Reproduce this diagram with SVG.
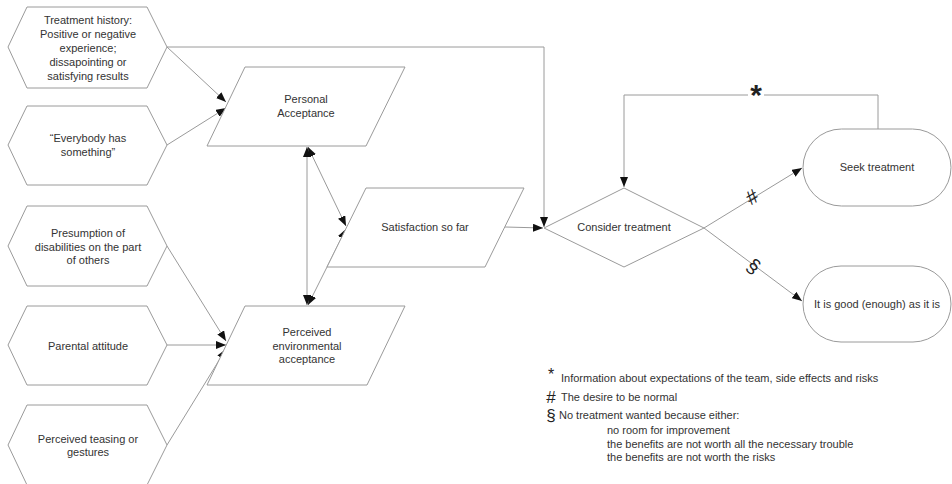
<svg xmlns="http://www.w3.org/2000/svg" width="952" height="484" viewBox="0 0 952 484">
<defs>
<marker id="ah" viewBox="0 0 10 8" refX="10" refY="4" markerWidth="10" markerHeight="8" markerUnits="userSpaceOnUse" orient="auto-start-reverse">
<path d="M0,0 L10,4 L0,8 z" fill="#111"/>
</marker>
<style>
.shape{fill:#fff;stroke:#9a9a9a;stroke-width:1}
.t{font-family:"Liberation Sans",Arial,sans-serif;font-size:11px;fill:#333;text-anchor:middle}
.lg{font-family:"Liberation Sans",Arial,sans-serif;font-size:11px;fill:#333}
.sym{font-family:"Liberation Sans",Arial,sans-serif;fill:#222}
.c{fill:none;stroke:#9a9a9a;stroke-width:1}
.a{marker-end:url(#ah)}
.b{marker-start:url(#ah);marker-end:url(#ah)}
</style>
</defs>
<rect width="952" height="484" fill="#fff"/>

<g id="connectors">
<line class="c a" x1="167" y1="47" x2="226" y2="102"/>
<line class="c a" x1="167" y1="145" x2="226" y2="108"/>
<polyline class="c a" points="167,47 544,47 544,227"/>
<line class="c a" x1="167" y1="246" x2="226" y2="341"/>
<line class="c a" x1="167" y1="345" x2="226" y2="345"/>
<line class="c a" x1="167" y1="445" x2="226" y2="349"/>
<line class="c b" x1="307" y1="147" x2="307" y2="305"/>
<line class="c b" x1="308" y1="147" x2="346" y2="226"/>
<line class="c b" x1="346" y1="229" x2="308" y2="305"/>
<line class="c a" x1="505" y1="227" x2="543" y2="228"/>
<line class="c a" x1="704" y1="228" x2="802" y2="168"/>
<line class="c a" x1="704" y1="228" x2="802" y2="301"/>
<polyline class="c" points="878,129 878,95 764,95"/>
<polyline class="c a" points="748,95 624,95 624,187"/>
<text class="sym" x="756" y="105" font-size="30" font-weight="bold" text-anchor="middle">*</text>
<text class="sym" x="752" y="204" font-size="20" text-anchor="middle" transform="rotate(-31 752 197)">#</text>
<text class="sym" x="753" y="273" font-size="20" text-anchor="middle" transform="rotate(38 753 267)">§</text>
</g>

<g id="hex1">
<polygon class="shape" points="8,47 27,7 147,7 167,47 147,88 27,88"/>
<text class="t" x="88" y="24">Treatment history:</text>
<text class="t" x="88" y="38">Positive or negative</text>
<text class="t" x="88" y="52">experience;</text>
<text class="t" x="88" y="66">dissapointing or</text>
<text class="t" x="88" y="79.5">satisfying results</text>
</g>
<g id="hex2">
<polygon class="shape" points="8,145 27,106 147,106 167,145 147,185 27,185"/>
<text class="t" x="88" y="142">“Everybody has</text>
<text class="t" x="88" y="156">something”</text>
</g>
<g id="hex3">
<polygon class="shape" points="8,246 27,206 147,206 167,246 147,286 27,286"/>
<text class="t" x="88" y="237">Presumption of</text>
<text class="t" x="88" y="250.5">disabilities on the part</text>
<text class="t" x="88" y="264">of others</text>
</g>
<g id="hex4">
<polygon class="shape" points="8,345 27,306 147,306 167,345 147,385 27,385"/>
<text class="t" x="88" y="349.5">Parental attitude</text>
</g>
<g id="hex5">
<polygon class="shape" points="8,445 27,405 147,405 167,445 147,485 27,485"/>
<text class="t" x="88" y="442.5">Perceived teasing or</text>
<text class="t" x="88" y="456">gestures</text>
</g>

<g id="personal-acceptance">
<polygon class="shape" points="245,67 405,67 366,146 207,146"/>
<text class="t" x="306" y="103">Personal</text>
<text class="t" x="306" y="117">Acceptance</text>
</g>
<g id="satisfaction">
<polygon class="shape" points="366,188 524,188 485,267 327,267"/>
<text class="t" x="425" y="231">Satisfaction so far</text>
</g>
<g id="perceived-env">
<polygon class="shape" points="245,306 405,306 367,385 207,385"/>
<text class="t" x="307" y="336">Perceived</text>
<text class="t" x="307" y="349.5">environmental</text>
<text class="t" x="307" y="363">acceptance</text>
</g>
<g id="consider">
<polygon class="shape" points="544,228 624,188 704,228 624,267"/>
<text class="t" x="624" y="231">Consider treatment</text>
</g>
<g id="seek">
<rect class="shape" x="803" y="129" width="148" height="77" rx="38.5" ry="38.5"/>
<text class="t" x="877" y="171">Seek treatment</text>
</g>
<g id="good">
<rect class="shape" x="803" y="266" width="148" height="76" rx="38" ry="38"/>
<text class="t" x="877" y="308">It is good (enough) as it is</text>
</g>

<g id="legend">
<text class="sym" x="551" y="380" font-size="16" text-anchor="middle">*</text>
<text class="lg" x="561" y="382">Information about expectations of the team, side effects and risks</text>
<text class="sym" x="551" y="403" font-size="17" text-anchor="middle">#</text>
<text class="lg" x="561" y="401">The desire to be normal</text>
<text class="sym" x="551" y="421" font-size="17" text-anchor="middle">§</text>
<text class="lg" x="559" y="419">No treatment wanted because either:</text>
<text class="lg" x="607" y="434">no room for improvement</text>
<text class="lg" x="607" y="447.5">the benefits are not worth all the necessary trouble</text>
<text class="lg" x="607" y="461">the benefits are not worth the risks</text>
</g>
</svg>
